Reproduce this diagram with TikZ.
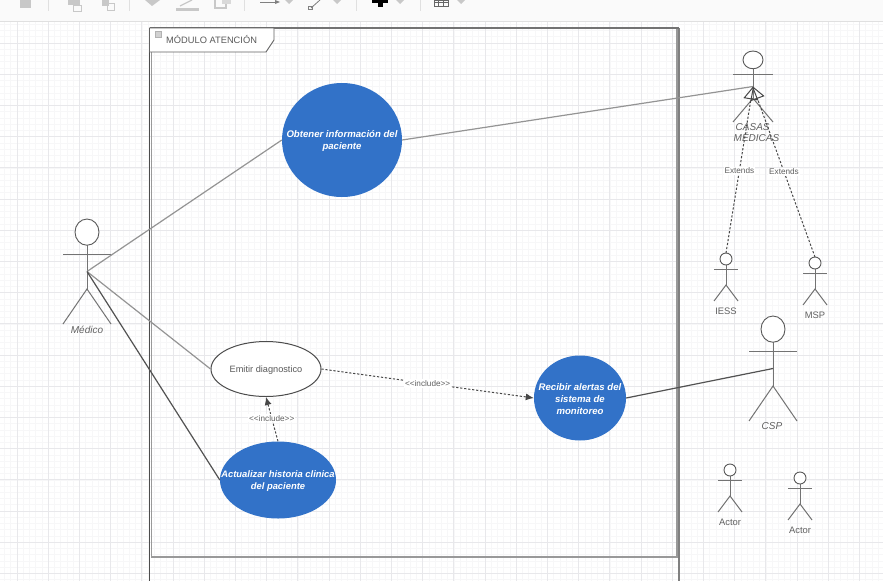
\documentclass[tikz,border=0pt]{standalone}
\usepackage{fontspec}
\setmainfont{Liberation Sans}
\usetikzlibrary{shapes.geometric,arrows.meta}
\definecolor{usecase}{HTML}{3272C8}
\definecolor{gridmaj}{HTML}{E8E8EB}
\definecolor{gridmin}{HTML}{F7F7F8}
\definecolor{toolgray}{HTML}{C8C8C8}
\tikzset{
  stick/.style={draw=black!55,line width=1pt},
  actorhead/.style={draw=black!65,fill=white,line width=0.9pt},
  actorlabel/.style={font=\fontsize{9.4}{10}\selectfont,text=black!62,inner sep=0pt,align=left},
  blueuse/.style={ellipse,fill=usecase,inner sep=0pt},
  bluetext/.style={text=white,inner sep=0pt,align=center,yshift=-1pt,font=\fontsize{9.6}{12}\selectfont\bfseries\itshape},
  whiteuse/.style={ellipse,draw=black!70,fill=white,line width=1pt,inner sep=0pt},
  whitetext/.style={inner sep=0pt,yshift=-1pt,text=black!65,font=\fontsize{9.2}{11}\selectfont},
  assoc/.style={draw=black!42,line width=1.2pt},
  assocdark/.style={draw=black!68,line width=1.2pt},
  dashlink/.style={draw=black!72,line width=1pt,dash pattern=on 2.2pt off 1.8pt},
  edgelabel/.style={fill=white,inner sep=1pt,text=black!62,font=\fontsize{8.2}{9}\selectfont},
  tool/.style={fill=toolgray,draw=none},
  toolsep/.style={draw=black!12,line width=0.7pt},
}
% #1 name, #2 centre x, #3 top y, #4 width, #5 height
\newcommand{\stickman}[5]{%
  \coordinate (#1) at (#2,{#3+#5/2});
  \coordinate (#1top) at (#2,#3);
  \draw[stick] ({#2-#4/2},{#3+#5/3}) -- ({#2+#4/2},{#3+#5/3});
  \draw[stick] (#2,{#3+#5/4}) -- (#2,{#3+#5*2/3});
  \draw[stick] ({#2-#4/2},{#3+#5}) -- (#2,{#3+#5*2/3}) -- ({#2+#4/2},{#3+#5});
  \draw[actorhead] (#2,{#3+#5/8}) ellipse [x radius={#4/4},y radius={#5/8}];
}
\begin{document}
\begin{tikzpicture}[x=1pt,y=-1pt]
\useasboundingbox (0,0) rectangle (883,581);
\fill[white] (0,0) rectangle (883,581);
% grid
\foreach \k in {0,...,142} \draw[gridmin,line width=0.6pt] ({4.52+\k*6.24},21) -- ({4.52+\k*6.24},581);
\foreach \k in {0,...,90} \draw[gridmin,line width=0.6pt] (0,{24.28+\k*6.24}) -- (883,{24.28+\k*6.24});
\foreach \k in {0,...,28} \draw[gridmaj,line width=0.8pt] ({17+\k*31.2},21) -- ({17+\k*31.2},581);
\foreach \k in {0,...,17} \draw[gridmaj,line width=0.8pt] (0,{43+\k*31.2}) -- (883,{43+\k*31.2});
% toolbar
\fill[black!2] (0,0) rectangle (883,20.5);
\draw[black!12,line width=0.8pt] (0,21) -- (883,21);
\foreach \x in {48,129,244,356,420} \draw[toolsep] (\x,0) -- (\x,11);
\fill[tool] (20,0) rectangle (31,8);
\fill[tool] (68,0) rectangle (80,5); \draw[toolgray,line width=1pt] (73,5) rectangle (81,11);
\fill[tool] (102,0) rectangle (109,6); \draw[toolgray,line width=1pt] (107,3) rectangle (114,10);
\fill[tool] (145,0) -- (160,0) -- (152,6) -- cycle;
\fill[tool] (176,8) rectangle (199,11); \draw[toolgray,line width=1.2pt] (180,6) -- (192,0);
\draw[toolgray,line width=1.2pt] (215,0) -- (215,8) -- (226,8) -- (226,0);
\fill[black!15] (222,0) rectangle (231,4);
\draw[black!50,line width=0.8pt] (260,2) -- (276,2);
\fill[black!50] (275,0) -- (280,2) -- (275,4) -- cycle;
\fill[tool] (285,0) -- (293,0) -- (289,4) -- cycle;
\draw[black!50,line width=0.8pt] (311,8) -- (320,0);
\draw[black!50,line width=0.6pt] (308.5,6) rectangle (312,9.5);
\fill[tool] (333,0) -- (341,0) -- (337,4) -- cycle;
\fill[black] (372,0) rectangle (388,3); \fill[black] (377.5,0) rectangle (382.5,7);
\fill[tool] (396,0) -- (404,0) -- (400,4) -- cycle;
\draw[black!60,line width=0.7pt] (434,0) rectangle (448,6.5);
\draw[black!60,line width=0.6pt] (434,2.5) -- (448,2.5) (438.7,0) -- (438.7,6.5) (443.3,0) -- (443.3,6.5);
\fill[tool] (457,0) -- (465,0) -- (461,4) -- cycle;
% frame
\draw[black!70,line width=1pt] (149.5,28) -- (149.5,581);
\draw[black!50,line width=1.4pt] (679,28) -- (679,581);
\draw[black!40,line width=1.2pt] (151.5,28) rectangle (677,557);
\draw[black!55,line width=1.6pt] (149.5,28) -- (679,28);
\draw[black!62,fill=white,line width=0.9pt] (149.5,28) -- (274,28) -- (274,40) -- (266,52) -- (149.5,52) -- cycle;
\fill[black!18,draw=black!30,line width=0.4pt] (155,31) rectangle (161,37);
\node[anchor=west,inner sep=0pt,text=black!65,font=\fontsize{9.3}{10}\selectfont] (modulo) at (166,40) {MÓDULO ATENCIÓN};
% use cases
\node[blueuse,minimum width=120pt,minimum height=114pt,label={[bluetext]center:Obtener información del\\paciente}] (obtener) at (342,140) {};
\node[whiteuse,minimum width=110pt,minimum height=55pt,label={[whitetext]center:Emitir diagnostico}] (emitir) at (266,369) {};
\node[blueuse,minimum width=116pt,minimum height=77pt,label={[bluetext,font=\fontsize{9.4}{12}\selectfont\bfseries\itshape]center:Actualizar historia clinica\\del paciente}] (actualizar) at (278,480) {};
\node[blueuse,minimum width=92pt,minimum height=85pt,label={[bluetext]center:Recibir alertas del\\sistema de\\monitoreo}] (recibir) at (580,398) {};
% actors
\stickman{medico}{87}{219}{48}{105}
\node[actorlabel,font=\fontsize{10}{10}\selectfont\itshape] (medicolabel) at (87,330) {Médico};
\stickman{casas}{753}{51}{40}{71}
\stickman{csp}{773}{316}{48}{105}
\node[actorlabel,font=\fontsize{10}{10}\selectfont\itshape] (csplabel) at (772,426) {CSP};
\stickman{iess}{726}{253}{24}{48}
\node[actorlabel] (iesslabel) at (726,311) {IESS};
\stickman{msp}{815}{257}{24}{48}
\node[actorlabel] (msplabel) at (815,315) {MSP};
\stickman{actora}{730}{464}{24}{48}
\node[actorlabel] (actoralabel) at (730,522) {Actor};
\stickman{actorb}{800}{472}{24}{48}
\node[actorlabel] (actorblabel) at (800,530) {Actor};
% associations
\draw[assoc] (medico) -- (obtener.west);
\draw[assoc] (medico) -- (emitir.west);
\draw[assocdark] (medico) -- (actualizar.west);
\draw[assoc] (obtener.east) -- (casas);
\draw[assocdark] (recibir.east) -- (csp);
% includes
\draw[dashlink,-{Latex[length=8pt,width=7pt]}] (emitir.east) -- node[edgelabel,pos=0.5] {{<}{<}include{>}{>}} (recibir.west);
\draw[dashlink,-{Latex[length=8pt,width=7pt]}] (actualizar.north) -- node[edgelabel,pos=0.52] {{<}{<}include{>}{>}} (emitir.south);
% generalisations
\node[actorlabel,font=\fontsize{10}{11}\selectfont\itshape,align=left] (casaslabel) at (756.5,132.5) {\hspace*{2pt}CASAS\\MÉDICAS};
\draw[dashlink,-{Triangle[open,length=13pt,width=15pt,fill=none,line width=1pt,sep=0pt]}] (iesstop) -- node[edgelabel,pos=0.495] {Extends} (casas);
\draw[dashlink,-{Triangle[open,length=13pt,width=15pt,fill=none,line width=1pt,sep=0pt]}] (msptop) -- node[edgelabel,pos=0.5] {Extends} (casas);
\end{tikzpicture}
\end{document}
